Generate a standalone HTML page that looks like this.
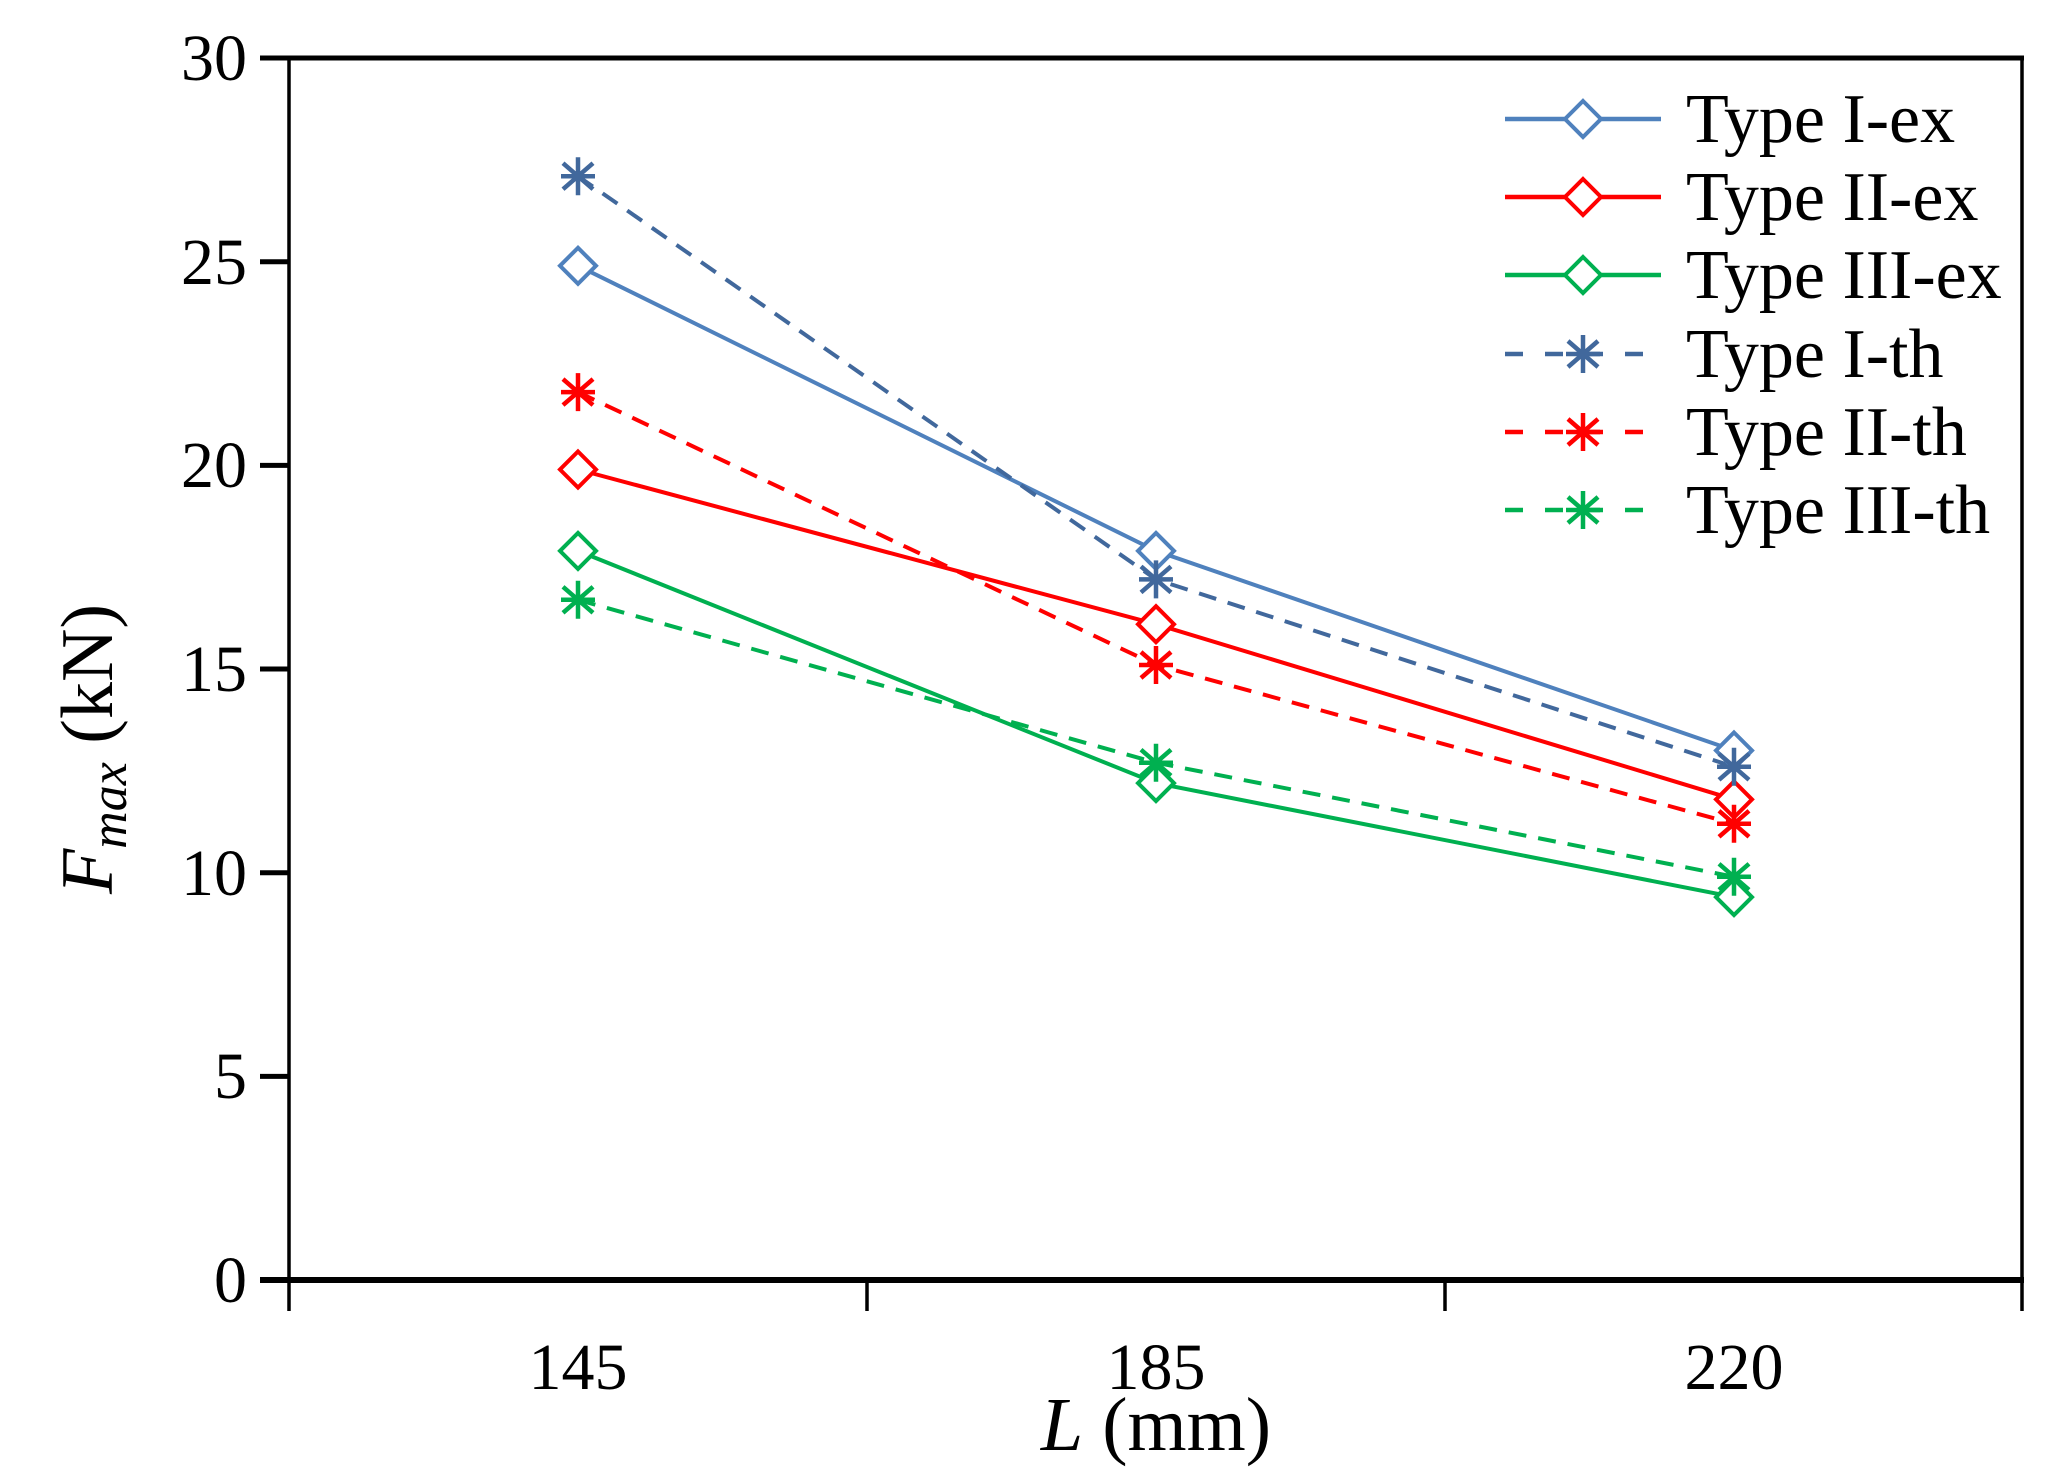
<!DOCTYPE html>
<html><head><meta charset="utf-8"><style>
html,body{margin:0;padding:0;background:#fff;}
svg{display:block;}
text{font-family:"Liberation Serif",serif;fill:#000;}
</style></head><body>
<svg width="2067" height="1483" viewBox="0 0 2067 1483" xmlns="http://www.w3.org/2000/svg">
<defs>
<g id="dia"><path d="M0,-18 L18,0 L0,18 L-18,0 Z" fill="#fff" stroke-width="4"/></g>
<g id="ast"><path d="M0,-19 V19 M-15,-13 L15,13 M-15,13 L15,-13 M-17,0 H17" fill="none" stroke-width="4.5"/></g>
</defs>
<!-- axes -->
<line x1="289" y1="58" x2="2024" y2="58" stroke="#000" stroke-width="5"/>
<line x1="2022" y1="56" x2="2022" y2="1311" stroke="#000" stroke-width="3.5"/>
<line x1="289" y1="56" x2="289" y2="1311" stroke="#000" stroke-width="3.5"/>
<line x1="260" y1="1280" x2="2024" y2="1280" stroke="#000" stroke-width="6"/>
<g stroke="#000" stroke-width="5">
<line x1="260" y1="58" x2="289" y2="58"/>
<line x1="260" y1="261.7" x2="289" y2="261.7"/>
<line x1="260" y1="465.4" x2="289" y2="465.4"/>
<line x1="260" y1="669" x2="289" y2="669"/>
<line x1="260" y1="872.7" x2="289" y2="872.7"/>
<line x1="260" y1="1076.4" x2="289" y2="1076.4"/>
</g>
<g stroke="#000" stroke-width="3.5">
<line x1="867" y1="1280" x2="867" y2="1311"/>
<line x1="1445" y1="1280" x2="1445" y2="1311"/>
</g>
<g font-size="66" text-anchor="end">
<text x="247" y="80">30</text>
<text x="247" y="284">25</text>
<text x="247" y="487">20</text>
<text x="247" y="691">15</text>
<text x="247" y="895">10</text>
<text x="247" y="1098">5</text>
<text x="247" y="1302">0</text>
</g>
<g font-size="66" text-anchor="middle">
<text x="578" y="1389">145</text>
<text x="1156" y="1389">185</text>
<text x="1734" y="1389">220</text>
</g>
<text x="1156" y="1450" font-size="76" text-anchor="middle"><tspan font-style="italic">L</tspan> (mm)</text>
<text transform="translate(112,749) rotate(-90)" font-size="74" text-anchor="middle"><tspan font-style="italic">F</tspan><tspan font-style="italic" font-size="52" dy="14">max</tspan><tspan dy="-14"> (kN)</tspan></text>

<!-- series -->
<g fill="none" stroke-width="4">
<polyline points="578,265.8 1156,550.9 1734,750.5" stroke="#4F81BD"/>
<polyline points="578,469.5 1156,624.2 1734,799.4" stroke="#FF0000"/>
<polyline points="578,550.9 1156,783.1 1734,897.1" stroke="#00B050"/>
<polyline points="578,176.2 1156,579.4 1734,766.8" stroke="#41689C" stroke-dasharray="18,12"/>
<polyline points="578,392.1 1156,665 1734,823.8" stroke="#FF0000" stroke-dasharray="18,12"/>
<polyline points="578,599.8 1156,762.7 1734,876.8" stroke="#00B050" stroke-dasharray="18,12"/>
</g>
<g stroke="#4F81BD"><use href="#dia" x="578" y="265.8"/><use href="#dia" x="1156" y="550.9"/><use href="#dia" x="1734" y="750.5"/></g>
<g stroke="#FF0000"><use href="#dia" x="578" y="469.5"/><use href="#dia" x="1156" y="624.2"/><use href="#dia" x="1734" y="799.4"/></g>
<g stroke="#00B050"><use href="#dia" x="578" y="550.9"/><use href="#dia" x="1156" y="783.1"/><use href="#dia" x="1734" y="897.1"/></g>
<g stroke="#41689C"><use href="#ast" x="578" y="176.2"/><use href="#ast" x="1156" y="579.4"/><use href="#ast" x="1734" y="766.8"/></g>
<g stroke="#FF0000"><use href="#ast" x="578" y="392.1"/><use href="#ast" x="1156" y="665"/><use href="#ast" x="1734" y="823.8"/></g>
<g stroke="#00B050"><use href="#ast" x="578" y="599.8"/><use href="#ast" x="1156" y="762.7"/><use href="#ast" x="1734" y="876.8"/></g>

<!-- legend -->
<g fill="none" stroke-width="4.5">
<line x1="1505" y1="119" x2="1661" y2="119" stroke="#4F81BD"/>
<line x1="1505" y1="197" x2="1661" y2="197" stroke="#FF0000"/>
<line x1="1505" y1="275" x2="1661" y2="275" stroke="#00B050"/>
<line x1="1505" y1="354" x2="1661" y2="354" stroke="#41689C" stroke-dasharray="18,22"/>
<line x1="1505" y1="432" x2="1661" y2="432" stroke="#FF0000" stroke-dasharray="18,22"/>
<line x1="1505" y1="510" x2="1661" y2="510" stroke="#00B050" stroke-dasharray="18,22"/>
</g>
<g stroke="#4F81BD"><use href="#dia" x="1583" y="119"/></g>
<g stroke="#FF0000"><use href="#dia" x="1583" y="197"/></g>
<g stroke="#00B050"><use href="#dia" x="1583" y="275"/></g>
<g stroke="#41689C"><use href="#ast" x="1583" y="354"/></g>
<g stroke="#FF0000"><use href="#ast" x="1583" y="432"/></g>
<g stroke="#00B050"><use href="#ast" x="1583" y="510"/></g>
<g font-size="70">
<text x="1686" y="142">Type I-ex</text>
<text x="1686" y="220">Type II-ex</text>
<text x="1686" y="298">Type III-ex</text>
<text x="1686" y="377">Type I-th</text>
<text x="1686" y="455">Type II-th</text>
<text x="1686" y="533">Type III-th</text>
</g>
</svg>
</body></html>
